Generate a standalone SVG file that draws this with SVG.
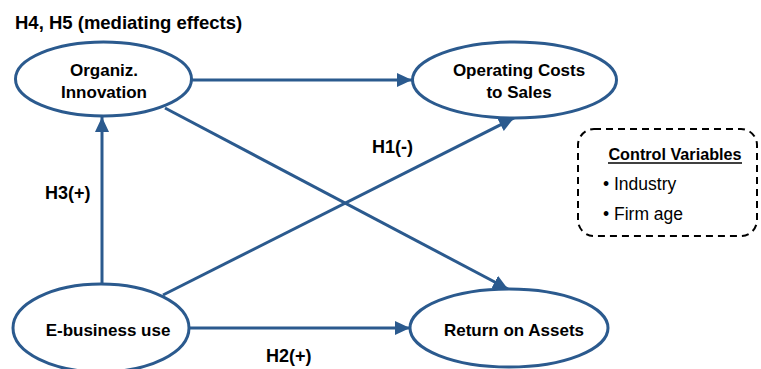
<svg xmlns="http://www.w3.org/2000/svg" width="761" height="369" viewBox="0 0 761 369">
<defs>
<style>
.node{fill:#ffffff;stroke:#2b5a8e;stroke-width:3}
.conn{stroke:#2b5a8e;stroke-width:3;fill:none}
.t{font-family:"Liberation Sans",Arial,Helvetica,sans-serif;font-weight:bold;font-size:17px;fill:#000;text-anchor:middle}
.lab{font-family:"Liberation Sans",Arial,Helvetica,sans-serif;font-weight:bold;font-size:18px;fill:#000}
.cv{font-family:"Liberation Sans",Arial,Helvetica,sans-serif;font-size:17.5px;fill:#000}
</style>
<marker id="ah" markerUnits="userSpaceOnUse" markerWidth="16" markerHeight="14" refX="15" refY="7" orient="auto">
<path d="M0,0 L15,7 L0,14 z" fill="#2b5a8e"/>
</marker>
</defs>
<rect width="761" height="369" fill="#ffffff"/>
<text class="lab" x="15" y="29" style="font-size:18.5px">H4, H5 (mediating effects)</text>
<g id="connectors">
<line class="conn" x1="192" y1="80" x2="412" y2="80" marker-end="url(#ah)"/>
<line class="conn" x1="165" y1="108" x2="508" y2="289" marker-end="url(#ah)"/>
<line class="conn" x1="102" y1="283" x2="102" y2="117" marker-end="url(#ah)"/>
<line class="conn" x1="163" y1="295" x2="514" y2="118" marker-end="url(#ah)"/>
<line class="conn" x1="189" y1="328" x2="410" y2="328" marker-end="url(#ah)"/>
<text class="lab" x="372" y="153">H1(-)</text>
<text class="lab" x="45" y="199">H3(+)</text>
<text class="lab" x="266" y="362">H2(+)</text>
</g>
<g id="organiz">
<ellipse class="node" cx="103.5" cy="79" rx="88" ry="37"/>
<text class="t" x="104" y="76">Organiz.</text>
<text class="t" x="104" y="98">Innovation</text>
</g>
<g id="opcosts">
<ellipse class="node" cx="514.5" cy="80" rx="102" ry="38"/>
<text class="t" x="519" y="76">Operating Costs</text>
<text class="t" x="519" y="98">to Sales</text>
</g>
<g id="ebusiness">
<ellipse class="node" cx="101" cy="328" rx="88" ry="44"/>
<text class="t" x="108" y="336">E-business use</text>
</g>
<g id="roa">
<ellipse class="node" cx="509" cy="328" rx="99" ry="39"/>
<text class="t" x="514" y="336">Return on Assets</text>
</g>
<g id="controls">
<rect x="578" y="129" width="179" height="107" rx="16" ry="16" fill="none" stroke="#000" stroke-width="2" stroke-dasharray="7,5"/>
<text class="cv" x="675" y="160" style="text-anchor:middle;font-weight:bold;font-size:16.2px">Control Variables</text>
<line x1="608" y1="163" x2="742" y2="163" stroke="#000" stroke-width="1.5"/>
<text class="cv" x="603" y="190">• Industry</text>
<text class="cv" x="603" y="220">• Firm age</text>
</g>
</svg>
